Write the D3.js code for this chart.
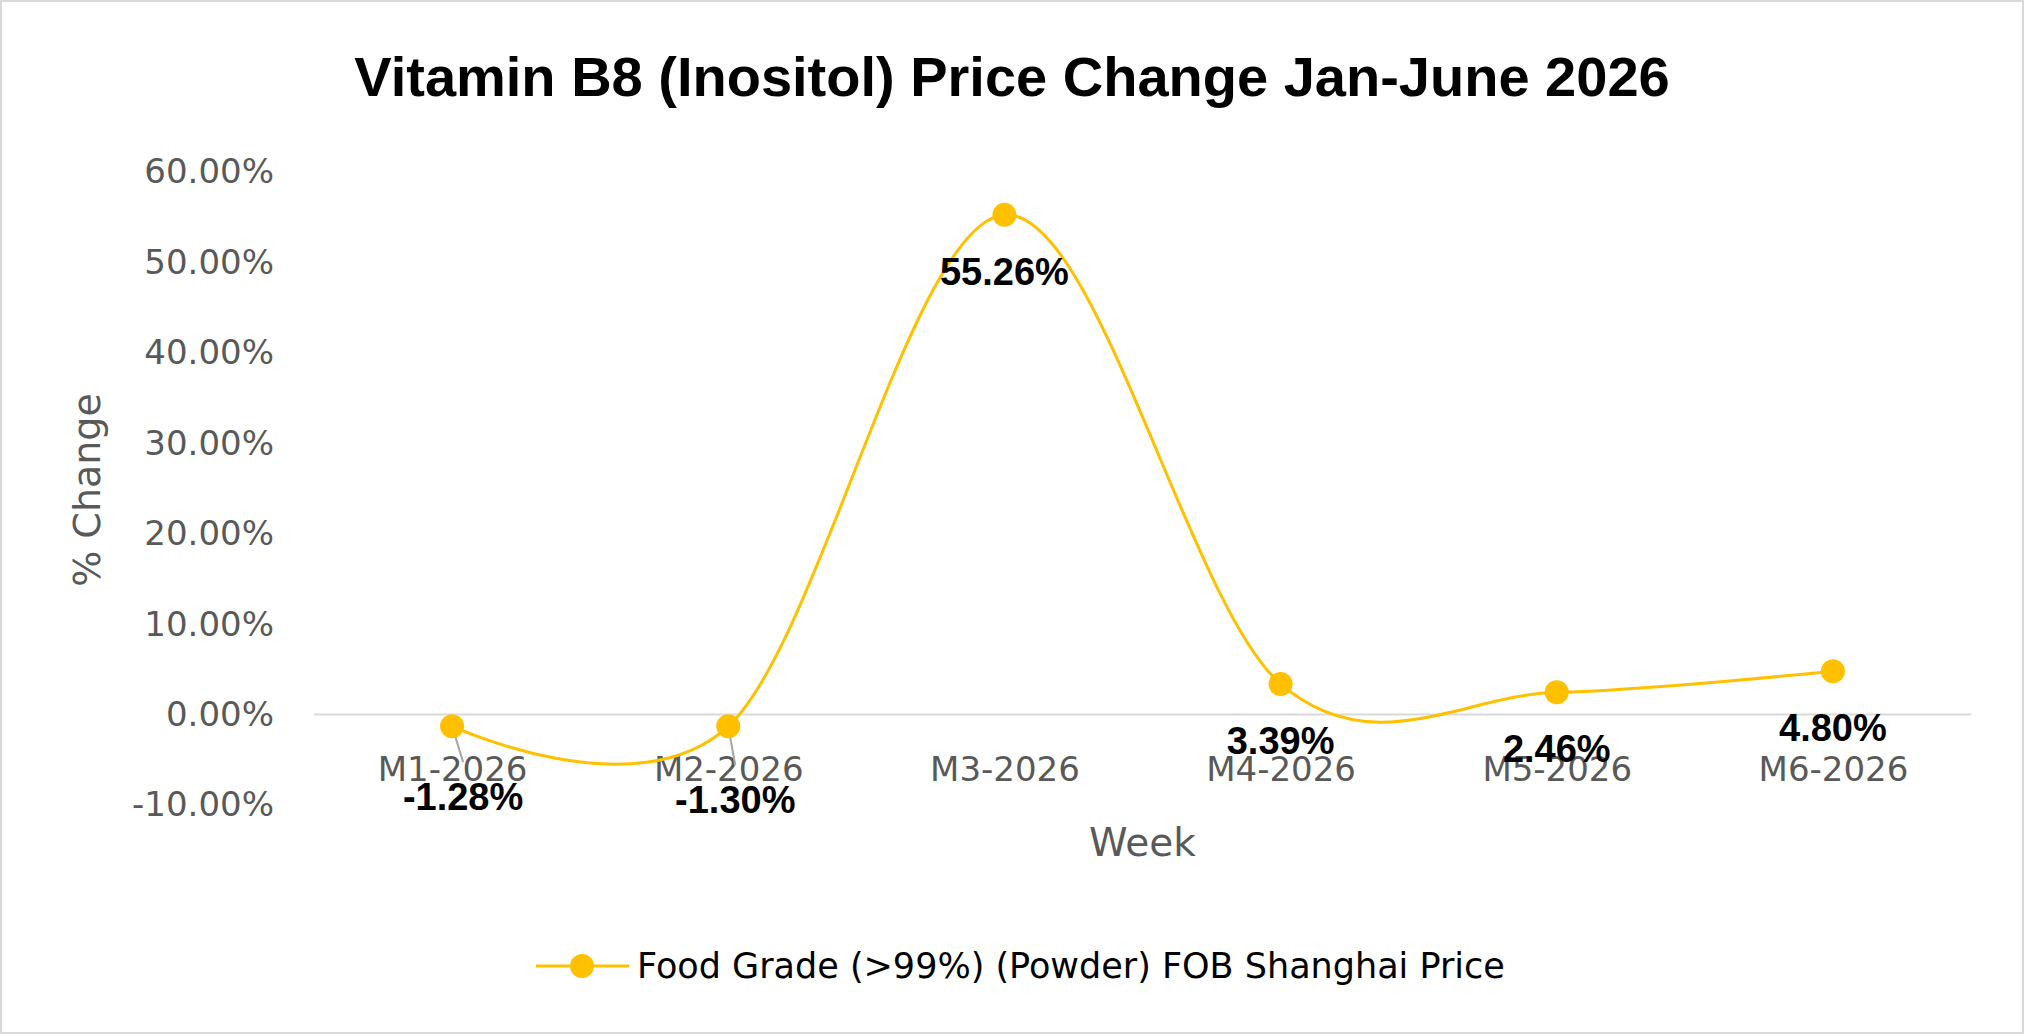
<!DOCTYPE html>
<html>
<head>
<meta charset="utf-8">
<script src="https://cdn.jsdelivr.net/npm/d3@7"></script>
<style>
  body { margin: 0; background: #ffffff; }
  svg { display: block; }
</style>
</head>
<body>
<svg id="chart"></svg>
<script>
// Data
const months = ["M1-2026", "M2-2026", "M3-2026", "M4-2026", "M5-2026", "M6-2026"];
const changes = [-0.0128, -0.013, 0.5526, 0.0339, 0.0246, 0.048];
const yTicks = [-0.1, 0, 0.1, 0.2, 0.3, 0.4, 0.5, 0.6];
const chartTitle = "Vitamin B8 (Inositol) Price Change Jan-June 2026";
const seriesName = "Food Grade (>99%) (Powder) FOB Shanghai Price";
const xTitle = "Week";
const yTitle = "% Change";

// Layout
const width = 2024;
const height = 1034;
const plot = { left: 314, right: 1971, top: 172, bottom: 805 };
const lineColor = "#FFC000";
const axisText = "#595959";
// label offsets from their point (first two were dragged, with leader lines)
const labelOffsets = [[11, 84], [7, 87], [0, 70], [0, 70], [0, 70], [0, 70]];

// plain hyphen for negatives, like Excel
const pct = d3.formatLocale({ decimal: ".", thousands: ",", grouping: [3], currency: ["", ""], minus: "-" }).format(".2%");

const svg = d3.select("svg#chart").attr("width", width).attr("height", height);

svg.append("rect")
  .attr("x", 1).attr("y", 1)
  .attr("width", width - 2).attr("height", height - 2)
  .style("fill", "#ffffff")
  .style("stroke", "#d9d9d9")
  .style("stroke-width", 2);

const x = d3.scalePoint().domain(months).range([plot.left, plot.right]).padding(0.5);
const y = d3.scaleLinear().domain([-0.1, 0.6]).range([plot.bottom, plot.top]);

// Title
svg.append("text")
  .attr("x", 1012)
  .attr("y", 96)
  .attr("text-anchor", "middle")
  .style("font-family", "'Liberation Sans', Arial, sans-serif")
  .style("font-weight", "bold")
  .style("font-size", "56px")
  .style("fill", "#000000")
  .text(chartTitle);

// Y axis
const yAxis = svg.append("g")
  .attr("transform", `translate(${plot.left},0)`)
  .call(d3.axisLeft(y).tickValues(yTicks).tickFormat(pct).tickSize(0).tickPadding(40));
yAxis.select(".domain").remove();
yAxis.selectAll("text")
  .style("font-family", "'DejaVu Sans', sans-serif")
  .style("font-size", "34px")
  .style("fill", axisText);

// zero line
svg.append("line")
  .attr("x1", plot.left).attr("x2", plot.right)
  .attr("y1", y(0)).attr("y2", y(0))
  .style("stroke", "#d9d9d9")
  .style("stroke-width", 2);

// X axis labels
const xAxis = svg.append("g")
  .attr("transform", `translate(0,${y(0)})`)
  .call(d3.axisBottom(x).tickSize(0));
xAxis.select(".domain").remove();
xAxis.selectAll("text")
  .attr("y", 66)
  .attr("dy", 0)
  .style("font-family", "'DejaVu Sans', sans-serif")
  .style("font-size", "34px")
  .style("fill", axisText);

// Axis titles
svg.append("text")
  .attr("x", (plot.left + plot.right) / 2)
  .attr("y", 856)
  .attr("text-anchor", "middle")
  .style("font-family", "'DejaVu Sans', sans-serif")
  .style("font-size", "39px")
  .style("fill", axisText)
  .text(xTitle);

svg.append("text")
  .attr("transform", "translate(100,490) rotate(-90)")
  .attr("text-anchor", "middle")
  .style("font-family", "'DejaVu Sans', sans-serif")
  .style("font-size", "38px")
  .style("fill", axisText)
  .text(yTitle);

// Line
const pts = months.map((m, i) => ({ m, v: changes[i], px: x(m), py: y(changes[i]) }));

const line = d3.line()
  .x((d) => d.px)
  .y((d) => d.py)
  .curve(d3.curveCardinal.tension(0));

// leader lines
svg.selectAll("line.leader")
  .data(pts.filter((d, i) => labelOffsets[i][1] > 70))
  .join("line")
  .attr("class", "leader")
  .attr("x1", (d) => d.px)
  .attr("y1", (d) => d.py)
  .attr("x2", (d) => d.px + labelOffsets[months.indexOf(d.m)][0])
  .attr("y2", (d) => d.py + labelOffsets[months.indexOf(d.m)][1] - 48)
  .style("stroke", "#a6a6a6")
  .style("stroke-width", 2);

svg.append("path")
  .attr("d", line(pts))
  .style("fill", "none")
  .style("stroke", lineColor)
  .style("stroke-width", 3);

svg.selectAll("circle.point")
  .data(pts)
  .join("circle")
  .attr("class", "point")
  .attr("cx", (d) => d.px)
  .attr("cy", (d) => d.py)
  .attr("r", 12)
  .style("fill", lineColor);

// Data labels
svg.selectAll("text.value")
  .data(pts)
  .join("text")
  .attr("class", "value")
  .attr("x", (d, i) => d.px + labelOffsets[i][0])
  .attr("y", (d, i) => d.py + labelOffsets[i][1])
  .attr("text-anchor", "middle")
  .style("font-family", "'Liberation Sans', Arial, sans-serif")
  .style("font-weight", "bold")
  .style("font-size", "38px")
  .style("fill", "#000000")
  .text((d) => pct(d.v));

// Legend
const legend = svg.append("g").attr("transform", "translate(536,966)");
legend.append("line")
  .attr("x1", 0).attr("x2", 93)
  .attr("y1", 0).attr("y2", 0)
  .style("stroke", lineColor)
  .style("stroke-width", 3);
legend.append("circle")
  .attr("cx", 46).attr("cy", 0).attr("r", 12)
  .style("fill", lineColor);
legend.append("text")
  .attr("x", 101)
  .attr("y", 12)
  .style("font-family", "'DejaVu Sans', sans-serif")
  .style("font-size", "35px")
  .style("fill", "#000000")
  .text(seriesName);
</script>
</body>
</html>
